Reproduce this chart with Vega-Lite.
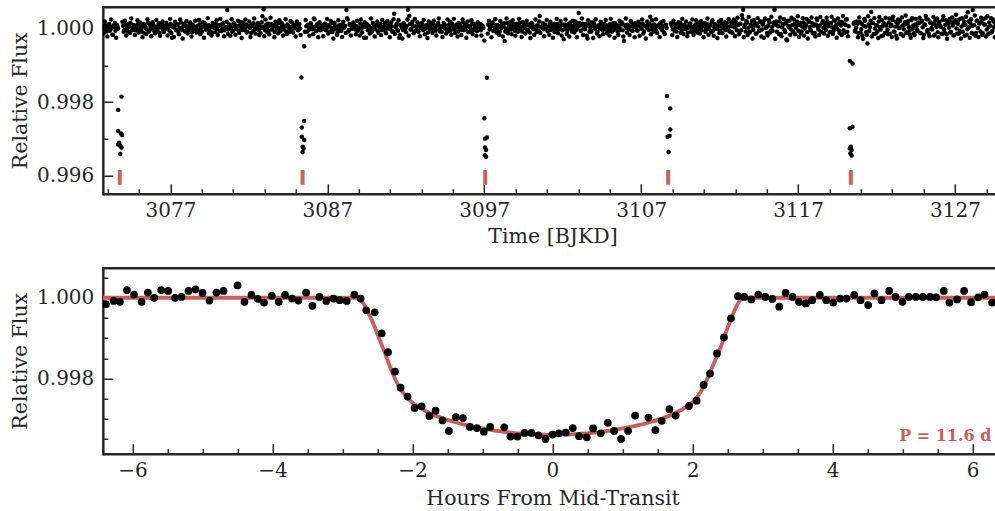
{
"$schema":"https://vega.github.io/schema/vega-lite/v6.json",
"background":"white",
"padding":{"left":9.8,"top":6.75,"right":0,"bottom":0},
"spacing":74,
"bounds":"flush",
"config":{"view":{"stroke":null},
"axis":{"labelFont":"DejaVu Serif","titleFont":"DejaVu Serif","labelFontSize":20,"titleFontSize":20.5,"titleFontWeight":"normal","labelColor":"#262626","titleColor":"#262626","domainColor":"#262626","tickColor":"#262626","domainWidth":2.5,"tickWidth":1.5,"grid":false,"labelOverlap":false,"labelFlush":false,"labelBound":false},
"axisX":{"domainCap":"butt"},
"axisY":{"domainCap":"square"}},
"datasets":{
"band":[
{"t":3072.7,"f":1.00006},{"t":3072.78,"f":0.99997},{"t":3072.86,"f":1.00009},{"t":3072.94,"f":0.99992},{"t":3073.02,"f":1.00004},{"t":3073.1,"f":1.00012},{"t":3073.18,"f":0.99998},{"t":3073.26,"f":1.00005},{"t":3073.34,"f":0.99982},{"t":3073.42,"f":1.00003},{"t":3073.5,"f":0.99994},{"t":3073.58,"f":1.0001},{"t":3073.66,"f":0.99999},{"t":3073.98,"f":1.00007},{"t":3074.06,"f":0.99996},{"t":3074.14,"f":1.00011},{"t":3074.22,"f":1.0},{"t":3074.3,"f":0.99991},{"t":3074.38,"f":1.00005},{"t":3074.46,"f":1.00014},{"t":3074.54,"f":0.99995},{"t":3074.62,"f":1.00002},
{"t":3074.7,"f":1.00008},{"t":3074.78,"f":0.99995},{"t":3074.86,"f":1.00001},{"t":3074.94,"f":1.00013},{"t":3075.02,"f":0.99993},{"t":3075.1,"f":1.00003},{"t":3075.18,"f":1.00006},{"t":3075.26,"f":0.99989},{"t":3075.34,"f":1.00009},{"t":3075.42,"f":1.00002},{"t":3075.5,"f":0.99997},{"t":3075.58,"f":1.00015},{"t":3075.66,"f":0.99994},{"t":3075.74,"f":1.00004},{"t":3075.82,"f":1.0},{"t":3075.9,"f":1.0001},{"t":3075.98,"f":0.99992},{"t":3076.06,"f":1.00005},{"t":3076.14,"f":0.99998},{"t":3076.22,"f":1.00007},{"t":3076.3,"f":0.99988},{"t":3076.38,"f":1.00003},{"t":3076.46,"f":1.00011},{"t":3076.54,"f":0.99996},{"t":3076.62,"f":1.00006},
{"t":3076.7,"f":0.99999},{"t":3076.78,"f":1.00009},{"t":3076.86,"f":1.00004},{"t":3076.94,"f":0.99994},{"t":3077.02,"f":1.00012},{"t":3077.1,"f":0.99975},{"t":3077.18,"f":1.00003},{"t":3077.26,"f":1.00007},{"t":3077.34,"f":0.99997},{"t":3077.42,"f":1.0001},{"t":3077.5,"f":0.99991},{"t":3077.58,"f":1.00002},{"t":3077.66,"f":1.00016},{"t":3077.74,"f":0.99996},{"t":3077.82,"f":1.00005},{"t":3077.9,"f":0.99993},{"t":3077.98,"f":1.00008},{"t":3078.06,"f":1.00001},{"t":3078.14,"f":0.99995},{"t":3078.22,"f":1.00013},{"t":3078.3,"f":1.0},{"t":3078.38,"f":0.9999},{"t":3078.46,"f":1.00006},{"t":3078.54,"f":1.00003},{"t":3078.62,"f":0.99998},
{"t":3078.7,"f":1.00007},{"t":3078.78,"f":0.99996},{"t":3078.86,"f":1.00011},{"t":3078.94,"f":1.00002},{"t":3079.02,"f":0.99992},{"t":3079.1,"f":1.00005},{"t":3079.18,"f":1.00014},{"t":3079.26,"f":0.99997},{"t":3079.34,"f":1.00001},{"t":3079.42,"f":1.00009},{"t":3079.5,"f":0.99994},{"t":3079.58,"f":1.00004},{"t":3079.66,"f":0.99989},{"t":3079.74,"f":1.00008},{"t":3079.82,"f":1.00003},{"t":3079.9,"f":1.00012},{"t":3079.98,"f":0.99998},{"t":3080.06,"f":1.00006},{"t":3080.14,"f":0.99993},{"t":3080.22,"f":1.0001},{"t":3080.3,"f":1.0},{"t":3080.38,"f":1.00015},{"t":3080.46,"f":0.99995},{"t":3080.54,"f":1.00004},{"t":3080.62,"f":1.0005},
{"t":3080.7,"f":0.99997},{"t":3080.78,"f":1.00008},{"t":3080.86,"f":1.00002},{"t":3080.94,"f":0.99991},{"t":3081.02,"f":1.00013},{"t":3081.1,"f":1.00005},{"t":3081.18,"f":0.99999},{"t":3081.26,"f":1.00007},{"t":3081.34,"f":0.99994},{"t":3081.42,"f":1.00018},{"t":3081.5,"f":1.00003},{"t":3081.58,"f":0.99996},{"t":3081.66,"f":1.00009},{"t":3081.74,"f":1.0},{"t":3081.82,"f":1.00011},{"t":3081.9,"f":0.99992},{"t":3081.98,"f":1.00006},{"t":3082.06,"f":1.00002},{"t":3082.14,"f":0.99988},{"t":3082.22,"f":1.00007},{"t":3082.3,"f":1.00014},{"t":3082.38,"f":0.99998},{"t":3082.46,"f":1.00004},{"t":3082.54,"f":1.00009},{"t":3082.62,"f":0.99995},
{"t":3082.7,"f":1.00006},{"t":3082.78,"f":1.00001},{"t":3082.86,"f":1.00033},{"t":3082.94,"f":1.00052},{"t":3083.02,"f":0.99996},{"t":3083.1,"f":1.0001},{"t":3083.18,"f":1.00003},{"t":3083.26,"f":0.99993},{"t":3083.34,"f":1.00008},{"t":3083.42,"f":1.00012},{"t":3083.5,"f":0.99998},{"t":3083.58,"f":1.00005},{"t":3083.66,"f":0.9999},{"t":3083.74,"f":1.00007},{"t":3083.82,"f":1.00001},{"t":3083.9,"f":1.00015},{"t":3083.98,"f":0.99994},{"t":3084.06,"f":1.00003},{"t":3084.14,"f":1.00009},{"t":3084.22,"f":0.99997},{"t":3084.3,"f":1.00006},{"t":3084.38,"f":0.99992},{"t":3084.46,"f":1.00011},{"t":3084.54,"f":1.00002},{"t":3084.62,"f":0.99999},
{"t":3084.7,"f":1.00004},{"t":3084.78,"f":0.99994},{"t":3084.86,"f":1.00009},{"t":3084.94,"f":1.00002},{"t":3085.02,"f":1.00013},{"t":3085.1,"f":0.99997},{"t":3085.18,"f":1.00007},{"t":3085.26,"f":1.0},{"t":3085.58,"f":0.99991},{"t":3085.66,"f":1.00006},{"t":3085.74,"f":1.0001},{"t":3085.82,"f":0.99996},{"t":3085.9,"f":1.00003},{"t":3085.98,"f":1.00008},{"t":3086.06,"f":0.99998},{"t":3086.14,"f":1.00027},{"t":3086.22,"f":1.00005},{"t":3086.3,"f":0.99993},{"t":3086.38,"f":1.00011},{"t":3086.46,"f":1.00001},{"t":3086.54,"f":0.99995},{"t":3086.62,"f":1.00004},
{"t":3086.7,"f":0.99998},{"t":3086.78,"f":1.00007},{"t":3086.86,"f":1.00012},{"t":3086.94,"f":0.99995},{"t":3087.02,"f":1.00003},{"t":3087.1,"f":1.00009},{"t":3087.18,"f":0.99992},{"t":3087.26,"f":1.00001},{"t":3087.34,"f":1.00014},{"t":3087.42,"f":0.99997},{"t":3087.5,"f":1.00006},{"t":3087.58,"f":1.0},{"t":3087.66,"f":0.9999},{"t":3087.74,"f":1.00008},{"t":3087.82,"f":1.00004},{"t":3087.9,"f":0.99994},{"t":3087.98,"f":1.00011},{"t":3088.06,"f":1.00002},{"t":3088.14,"f":1.00007},{"t":3088.22,"f":1.0005},{"t":3088.3,"f":1.00024},{"t":3088.38,"f":0.99996},{"t":3088.46,"f":1.00009},{"t":3088.54,"f":0.99999},{"t":3088.62,"f":1.00005},
{"t":3088.7,"f":1.0001},{"t":3088.78,"f":0.99997},{"t":3088.86,"f":1.00006},{"t":3088.94,"f":0.99993},{"t":3089.02,"f":1.00002},{"t":3089.1,"f":1.00013},{"t":3089.18,"f":0.99999},{"t":3089.26,"f":1.00008},{"t":3089.34,"f":0.99975},{"t":3089.42,"f":1.00004},{"t":3089.5,"f":1.00011},{"t":3089.58,"f":0.99995},{"t":3089.66,"f":1.00007},{"t":3089.74,"f":1.00001},{"t":3089.82,"f":0.99991},{"t":3089.9,"f":1.00015},{"t":3089.98,"f":1.00003},{"t":3090.06,"f":0.99998},{"t":3090.14,"f":1.00009},{"t":3090.22,"f":0.99994},{"t":3090.3,"f":1.00005},{"t":3090.38,"f":1.00012},{"t":3090.46,"f":0.99996},{"t":3090.54,"f":1.0},{"t":3090.62,"f":1.00007},
{"t":3090.7,"f":0.99995},{"t":3090.78,"f":1.00008},{"t":3090.86,"f":1.00003},{"t":3090.94,"f":1.00011},{"t":3091.02,"f":0.99998},{"t":3091.1,"f":1.00006},{"t":3091.18,"f":0.99991},{"t":3091.26,"f":1.0004},{"t":3091.34,"f":1.00004},{"t":3091.42,"f":1.00013},{"t":3091.5,"f":0.99994},{"t":3091.58,"f":0.99975},{"t":3091.66,"f":1.00009},{"t":3091.74,"f":1.00002},{"t":3091.82,"f":0.99996},{"t":3091.9,"f":1.0001},{"t":3091.98,"f":1.0},{"t":3092.06,"f":1.00007},{"t":3092.14,"f":1.00051},{"t":3092.22,"f":1.00034},{"t":3092.3,"f":0.99997},{"t":3092.38,"f":1.00012},{"t":3092.46,"f":1.00005},{"t":3092.54,"f":0.99992},{"t":3092.62,"f":1.00006},
{"t":3092.7,"f":1.00003},{"t":3092.78,"f":0.99993},{"t":3092.86,"f":1.0001},{"t":3092.94,"f":1.00001},{"t":3093.02,"f":1.00014},{"t":3093.1,"f":0.99996},{"t":3093.18,"f":1.00006},{"t":3093.26,"f":0.99999},{"t":3093.34,"f":1.00009},{"t":3093.42,"f":0.99989},{"t":3093.5,"f":1.00004},{"t":3093.58,"f":1.00008},{"t":3093.66,"f":0.99997},{"t":3093.74,"f":1.00012},{"t":3093.82,"f":1.00002},{"t":3093.9,"f":0.99994},{"t":3093.98,"f":1.00007},{"t":3094.06,"f":1.00015},{"t":3094.14,"f":0.99998},{"t":3094.22,"f":1.00005},{"t":3094.3,"f":0.99991},{"t":3094.38,"f":1.00003},{"t":3094.46,"f":1.00011},{"t":3094.54,"f":1.0},{"t":3094.62,"f":0.99995},
{"t":3094.7,"f":1.00009},{"t":3094.78,"f":1.00002},{"t":3094.86,"f":0.99994},{"t":3094.94,"f":1.00013},{"t":3095.02,"f":1.00004},{"t":3095.1,"f":0.99997},{"t":3095.18,"f":1.00007},{"t":3095.26,"f":1.00011},{"t":3095.34,"f":0.99992},{"t":3095.42,"f":1.00001},{"t":3095.5,"f":1.00006},{"t":3095.58,"f":0.99996},{"t":3095.66,"f":1.00016},{"t":3095.74,"f":1.00003},{"t":3095.82,"f":0.99998},{"t":3095.9,"f":1.00008},{"t":3095.98,"f":0.9999},{"t":3096.06,"f":1.00005},{"t":3096.14,"f":1.0},{"t":3096.22,"f":1.00012},{"t":3096.3,"f":0.99995},{"t":3096.38,"f":1.00007},{"t":3096.46,"f":1.00002},{"t":3096.54,"f":0.99993},{"t":3096.62,"f":1.0001},
{"t":3096.7,"f":1.00004},{"t":3096.78,"f":0.99995},{"t":3096.86,"f":1.00008},{"t":3096.94,"f":1.00001},{"t":3097.26,"f":1.0001},{"t":3097.34,"f":0.99997},{"t":3097.42,"f":1.00006},{"t":3097.5,"f":1.00013},{"t":3097.58,"f":0.99993},{"t":3097.66,"f":1.00002},{"t":3097.74,"f":1.00009},{"t":3097.82,"f":0.99999},{"t":3097.9,"f":1.00005},{"t":3097.98,"f":0.99991},{"t":3098.06,"f":1.00003},{"t":3098.14,"f":1.00011},{"t":3098.22,"f":1.00007},{"t":3098.3,"f":0.99966},{"t":3098.38,"f":1.0},{"t":3098.46,"f":1.00014},{"t":3098.54,"f":0.99996},{"t":3098.62,"f":1.00006},
{"t":3098.7,"f":0.99997},{"t":3098.78,"f":1.00007},{"t":3098.86,"f":1.00012},{"t":3098.94,"f":0.99994},{"t":3099.02,"f":1.00002},{"t":3099.1,"f":1.00009},{"t":3099.18,"f":0.99999},{"t":3099.26,"f":1.00015},{"t":3099.34,"f":1.00004},{"t":3099.42,"f":0.99992},{"t":3099.5,"f":1.00006},{"t":3099.58,"f":1.00001},{"t":3099.66,"f":1.0001},{"t":3099.74,"f":0.99996},{"t":3099.82,"f":1.00008},{"t":3099.9,"f":0.99989},{"t":3099.98,"f":1.00003},{"t":3100.06,"f":1.00013},{"t":3100.14,"f":0.99998},{"t":3100.22,"f":1.00005},{"t":3100.3,"f":1.0},{"t":3100.38,"f":1.00009},{"t":3100.46,"f":0.99994},{"t":3100.54,"f":1.00034},{"t":3100.62,"f":1.00004},
{"t":3100.7,"f":1.00007},{"t":3100.78,"f":0.99998},{"t":3100.86,"f":1.00011},{"t":3100.94,"f":1.00003},{"t":3101.02,"f":0.99993},{"t":3101.1,"f":1.00005},{"t":3101.18,"f":1.00014},{"t":3101.26,"f":0.99996},{"t":3101.34,"f":1.00008},{"t":3101.42,"f":1.00001},{"t":3101.5,"f":0.9999},{"t":3101.58,"f":1.00006},{"t":3101.66,"f":1.00012},{"t":3101.74,"f":0.99997},{"t":3101.82,"f":1.00004},{"t":3101.9,"f":1.00009},{"t":3101.98,"f":0.99995},{"t":3102.06,"f":0.99971},{"t":3102.14,"f":1.0001},{"t":3102.22,"f":1.00002},{"t":3102.3,"f":0.99994},{"t":3102.38,"f":1.00013},{"t":3102.46,"f":1.0},{"t":3102.54,"f":1.00007},{"t":3102.62,"f":0.99997},
{"t":3102.7,"f":1.00005},{"t":3102.78,"f":1.0001},{"t":3102.86,"f":0.99996},{"t":3102.94,"f":1.00002},{"t":3103.02,"f":1.00042},{"t":3103.1,"f":1.00008},{"t":3103.18,"f":0.99994},{"t":3103.26,"f":1.00013},{"t":3103.34,"f":1.00001},{"t":3103.42,"f":0.99998},{"t":3103.5,"f":1.00007},{"t":3103.58,"f":0.99973},{"t":3103.66,"f":1.00011},{"t":3103.74,"f":1.00004},{"t":3103.82,"f":0.99992},{"t":3103.9,"f":1.00006},{"t":3103.98,"f":1.00015},{"t":3104.06,"f":0.99999},{"t":3104.14,"f":1.00003},{"t":3104.22,"f":0.99991},{"t":3104.3,"f":1.00009},{"t":3104.38,"f":1.0},{"t":3104.46,"f":1.00012},{"t":3104.54,"f":0.99995},{"t":3104.62,"f":1.00006},
{"t":3104.7,"f":0.99998},{"t":3104.78,"f":1.00009},{"t":3104.86,"f":1.00004},{"t":3104.94,"f":0.99993},{"t":3105.02,"f":1.00012},{"t":3105.1,"f":1.00001},{"t":3105.18,"f":1.00006},{"t":3105.26,"f":0.99996},{"t":3105.34,"f":1.00014},{"t":3105.42,"f":1.00003},{"t":3105.5,"f":0.99991},{"t":3105.58,"f":1.00008},{"t":3105.66,"f":1.0},{"t":3105.74,"f":1.00011},{"t":3105.82,"f":0.99995},{"t":3105.9,"f":0.99966},{"t":3105.98,"f":1.00007},{"t":3106.06,"f":1.00002},{"t":3106.14,"f":1.0001},{"t":3106.22,"f":0.99997},{"t":3106.3,"f":1.00005},{"t":3106.38,"f":1.00016},{"t":3106.46,"f":0.99994},{"t":3106.54,"f":1.00004},{"t":3106.62,"f":1.00008},
{"t":3106.7,"f":1.00003},{"t":3106.78,"f":0.99994},{"t":3106.86,"f":1.0001},{"t":3106.94,"f":1.00005},{"t":3107.02,"f":0.99999},{"t":3107.1,"f":1.00013},{"t":3107.18,"f":0.99992},{"t":3107.26,"f":1.00007},{"t":3107.34,"f":1.00002},{"t":3107.42,"f":1.00009},{"t":3107.5,"f":0.99996},{"t":3107.58,"f":1.00032},{"t":3107.66,"f":1.00006},{"t":3107.74,"f":0.99998},{"t":3107.82,"f":1.00011},{"t":3107.9,"f":1.0},{"t":3107.98,"f":0.99993},{"t":3108.06,"f":1.00008},{"t":3108.14,"f":1.00004},{"t":3108.22,"f":1.00014},{"t":3108.3,"f":0.99997},{"t":3108.38,"f":1.00006},{"t":3108.46,"f":0.9999},{"t":3108.54,"f":1.00009},{"t":3108.62,"f":1.00001},
{"t":3108.94,"f":1.00007},{"t":3109.02,"f":0.99997},{"t":3109.1,"f":1.00012},{"t":3109.18,"f":1.00004},{"t":3109.26,"f":0.99992},{"t":3109.34,"f":1.00009},{"t":3109.42,"f":1.00001},{"t":3109.5,"f":1.00015},{"t":3109.58,"f":0.99995},{"t":3109.66,"f":1.00006},{"t":3109.74,"f":1.0001},{"t":3109.82,"f":0.99998},{"t":3109.9,"f":1.00003},{"t":3109.98,"f":0.99989},{"t":3110.06,"f":1.00008},{"t":3110.14,"f":1.00013},{"t":3110.22,"f":1.0},{"t":3110.3,"f":1.00005},{"t":3110.38,"f":0.99994},{"t":3110.46,"f":1.00011},{"t":3110.54,"f":1.00002},{"t":3110.62,"f":0.99996},
{"t":3110.7,"f":1.00009},{"t":3110.78,"f":1.00002},{"t":3110.86,"f":0.99995},{"t":3110.94,"f":1.00014},{"t":3111.02,"f":1.00006},{"t":3111.1,"f":0.99991},{"t":3111.18,"f":1.00003},{"t":3111.26,"f":1.00011},{"t":3111.34,"f":0.99998},{"t":3111.42,"f":1.00008},{"t":3111.5,"f":1.00017},{"t":3111.58,"f":0.99994},{"t":3111.66,"f":1.00004},{"t":3111.74,"f":1.0001},{"t":3111.82,"f":0.99999},{"t":3111.9,"f":1.00007},{"t":3111.98,"f":0.99988},{"t":3112.06,"f":1.00005},{"t":3112.14,"f":1.00013},{"t":3112.22,"f":1.0},{"t":3112.3,"f":1.00008},{"t":3112.38,"f":0.99996},{"t":3112.46,"f":1.00015},{"t":3112.54,"f":1.00003},{"t":3112.62,"f":0.99993},
{"t":3112.7,"f":1.00006},{"t":3112.78,"f":0.9999},{"t":3112.86,"f":1.00014},{"t":3112.94,"f":1.00003},{"t":3113.02,"f":1.00018},{"t":3113.1,"f":0.99995},{"t":3113.18,"f":1.00009},{"t":3113.26,"f":0.99987},{"t":3113.34,"f":1.00012},{"t":3113.42,"f":1.00036},{"t":3113.5,"f":1.00051},{"t":3113.58,"f":1.00004},{"t":3113.66,"f":0.99992},{"t":3113.74,"f":1.00016},{"t":3113.82,"f":1.00002},{"t":3113.9,"f":0.99989},{"t":3113.98,"f":1.0001},{"t":3114.06,"f":1.0002},{"t":3114.14,"f":0.99996},{"t":3114.22,"f":1.00007},{"t":3114.3,"f":0.99986},{"t":3114.38,"f":1.00013},{"t":3114.46,"f":1.00005},{"t":3114.54,"f":0.99994},{"t":3114.62,"f":1.00019},
{"t":3114.7,"f":0.99997},{"t":3114.78,"f":1.00012},{"t":3114.86,"f":1.00022},{"t":3114.94,"f":1.00001},{"t":3115.02,"f":0.99988},{"t":3115.1,"f":1.00008},{"t":3115.18,"f":1.00017},{"t":3115.26,"f":0.99993},{"t":3115.34,"f":1.00004},{"t":3115.42,"f":1.00015},{"t":3115.5,"f":1.00051},{"t":3115.58,"f":1.0001},{"t":3115.66,"f":0.99991},{"t":3115.74,"f":1.00006},{"t":3115.82,"f":1.00019},{"t":3115.9,"f":0.99985},{"t":3115.98,"f":1.00003},{"t":3116.06,"f":1.00011},{"t":3116.14,"f":0.99995},{"t":3116.22,"f":1.00014},{"t":3116.3,"f":0.99968},{"t":3116.38,"f":1.00007},{"t":3116.46,"f":1.00021},{"t":3116.54,"f":0.99998},{"t":3116.62,"f":1.00009},
{"t":3116.7,"f":0.99992},{"t":3116.78,"f":1.00013},{"t":3116.86,"f":1.00002},{"t":3116.94,"f":1.00018},{"t":3117.02,"f":0.99994},{"t":3117.1,"f":1.00009},{"t":3117.18,"f":0.99986},{"t":3117.26,"f":1.00005},{"t":3117.34,"f":1.00016},{"t":3117.42,"f":1.0},{"t":3117.5,"f":1.00011},{"t":3117.58,"f":0.9999},{"t":3117.66,"f":1.0002},{"t":3117.74,"f":1.00004},{"t":3117.82,"f":0.99995},{"t":3117.9,"f":1.00014},{"t":3117.98,"f":1.00007},{"t":3118.06,"f":0.99988},{"t":3118.14,"f":1.0001},{"t":3118.22,"f":1.00023},{"t":3118.3,"f":0.99997},{"t":3118.38,"f":1.00008},{"t":3118.46,"f":0.99991},{"t":3118.54,"f":1.00015},{"t":3118.62,"f":1.00001},
{"t":3118.7,"f":1.00012},{"t":3118.78,"f":0.99996},{"t":3118.86,"f":1.00019},{"t":3118.94,"f":1.00006},{"t":3119.02,"f":0.99989},{"t":3119.1,"f":1.00015},{"t":3119.18,"f":1.00003},{"t":3119.26,"f":0.99993},{"t":3119.34,"f":1.00021},{"t":3119.42,"f":1.00009},{"t":3119.5,"f":0.99998},{"t":3119.58,"f":1.00014},{"t":3119.66,"f":0.99987},{"t":3119.74,"f":1.00008},{"t":3119.82,"f":1.00017},{"t":3119.9,"f":0.99995},{"t":3119.98,"f":1.00011},{"t":3120.06,"f":1.00024},{"t":3120.14,"f":0.99991},{"t":3120.22,"f":1.00006},{"t":3120.54,"f":1.00013},{"t":3120.62,"f":0.99994},
{"t":3120.7,"f":1.00002},{"t":3120.78,"f":1.00013},{"t":3120.86,"f":0.99987},{"t":3120.94,"f":1.00017},{"t":3121.02,"f":0.99998},{"t":3121.1,"f":0.99981},{"t":3121.18,"f":1.00007},{"t":3121.26,"f":1.00021},{"t":3121.34,"f":0.9999},{"t":3121.42,"f":0.99959},{"t":3121.5,"f":1.00011},{"t":3121.58,"f":1.00004},{"t":3121.66,"f":1.00045},{"t":3121.74,"f":1.00015},{"t":3121.82,"f":0.99985},{"t":3121.9,"f":1.0},{"t":3121.98,"f":1.00009},{"t":3122.06,"f":0.99992},{"t":3122.14,"f":1.00019},{"t":3122.22,"f":1.00003},{"t":3122.3,"f":0.99979},{"t":3122.38,"f":1.00006},{"t":3122.46,"f":1.00014},{"t":3122.54,"f":0.99988},{"t":3122.62,"f":1.00008},
{"t":3122.7,"f":0.99997},{"t":3122.78,"f":1.00016},{"t":3122.86,"f":0.99986},{"t":3122.94,"f":1.0001},{"t":3123.02,"f":1.00023},{"t":3123.1,"f":0.99991},{"t":3123.18,"f":1.00005},{"t":3123.26,"f":0.9998},{"t":3123.34,"f":1.00013},{"t":3123.42,"f":1.00001},{"t":3123.5,"f":1.0002},{"t":3123.58,"f":0.99984},{"t":3123.66,"f":1.00008},{"t":3123.74,"f":0.99998},{"t":3123.82,"f":1.00017},{"t":3123.9,"f":0.99989},{"t":3123.98,"f":1.00012},{"t":3124.06,"f":1.00004},{"t":3124.14,"f":0.99982},{"t":3124.22,"f":1.00022},{"t":3124.3,"f":0.99999},{"t":3124.38,"f":0.99987},{"t":3124.46,"f":1.00011},{"t":3124.54,"f":1.00006},{"t":3124.62,"f":0.99993},
{"t":3124.7,"f":1.00014},{"t":3124.78,"f":0.99988},{"t":3124.86,"f":1.00019},{"t":3124.94,"f":1.00003},{"t":3125.02,"f":0.99983},{"t":3125.1,"f":1.00009},{"t":3125.18,"f":1.00025},{"t":3125.26,"f":0.99996},{"t":3125.34,"f":0.99985},{"t":3125.42,"f":1.00016},{"t":3125.5,"f":1.00001},{"t":3125.58,"f":1.00012},{"t":3125.66,"f":0.99981},{"t":3125.74,"f":1.00021},{"t":3125.82,"f":1.00004},{"t":3125.9,"f":0.9999},{"t":3125.98,"f":1.00015},{"t":3126.06,"f":1.00007},{"t":3126.14,"f":0.99986},{"t":3126.22,"f":1.00023},{"t":3126.3,"f":0.99998},{"t":3126.38,"f":1.0001},{"t":3126.46,"f":0.99984},{"t":3126.54,"f":1.00018},{"t":3126.62,"f":1.00002},
{"t":3126.7,"f":0.99989},{"t":3126.78,"f":1.00017},{"t":3126.86,"f":1.00008},{"t":3126.94,"f":0.99982},{"t":3127.02,"f":1.00022},{"t":3127.1,"f":1.0},{"t":3127.18,"f":1.00013},{"t":3127.26,"f":0.99986},{"t":3127.34,"f":1.00026},{"t":3127.42,"f":1.00005},{"t":3127.5,"f":0.99991},{"t":3127.58,"f":1.00019},{"t":3127.66,"f":1.0001},{"t":3127.74,"f":0.99983},{"t":3127.82,"f":1.00044},{"t":3127.9,"f":1.00003},{"t":3127.98,"f":1.00015},{"t":3128.06,"f":0.99988},{"t":3128.14,"f":1.0005},{"t":3128.22,"f":1.00009},{"t":3128.3,"f":0.9998},{"t":3128.38,"f":1.00021},{"t":3128.46,"f":1.00001},{"t":3128.54,"f":1.00014},{"t":3128.62,"f":0.99992},
{"t":3128.7,"f":1.0002},{"t":3128.78,"f":0.99987},{"t":3128.86,"f":1.00011},{"t":3128.94,"f":1.00028},{"t":3129.02,"f":0.99997},{"t":3129.1,"f":0.99984},{"t":3129.18,"f":1.00016},{"t":3129.26,"f":1.00007},{"t":3129.34,"f":0.9999},{"t":3129.42,"f":1.00024},{"t":3129.5,"f":1.00003},{"t":3129.58,"f":1.00012},
{"t":3072.74,"f":0.99986},{"t":3072.82,"f":1.00019},{"t":3072.9,"f":1.00003},{"t":3072.98,"f":0.99978},{"t":3073.06,"f":1.00011},{"t":3073.14,"f":0.99994},{"t":3073.22,"f":1.00024},{"t":3073.3,"f":0.99983},{"t":3073.38,"f":1.00008},{"t":3073.46,"f":1.00015},{"t":3073.54,"f":0.99975},{"t":3073.62,"f":1.00006},{"t":3073.94,"f":1.00018},{"t":3074.02,"f":0.99991},{"t":3074.1,"f":1.00021},{"t":3074.18,"f":0.99981},{"t":3074.26,"f":1.00002},{"t":3074.34,"f":1.00013},{"t":3074.42,"f":0.99988},{"t":3074.5,"f":1.00027},{"t":3074.58,"f":0.99996},{"t":3074.66,"f":1.00009},
{"t":3074.74,"f":0.99982},{"t":3074.82,"f":1.00007},{"t":3074.9,"f":1.00022},{"t":3074.98,"f":0.99989},{"t":3075.06,"f":1.00016},{"t":3075.14,"f":0.99997},{"t":3075.22,"f":0.99976},{"t":3075.3,"f":1.00012},{"t":3075.38,"f":1.00004},{"t":3075.46,"f":0.99985},{"t":3075.54,"f":1.00025},{"t":3075.62,"f":0.99992},{"t":3075.7,"f":1.0001},{"t":3075.78,"f":0.99979},{"t":3075.86,"f":1.00017},{"t":3075.94,"f":1.00001},{"t":3076.02,"f":0.99987},{"t":3076.1,"f":1.00023},{"t":3076.18,"f":0.99994},{"t":3076.26,"f":1.00014},{"t":3076.34,"f":0.9998},{"t":3076.42,"f":1.00008},{"t":3076.5,"f":1.00019},{"t":3076.58,"f":0.9999},{"t":3076.66,"f":1.00003},
{"t":3076.74,"f":1.00015},{"t":3076.82,"f":0.99981},{"t":3076.9,"f":1.00006},{"t":3076.98,"f":1.00026},{"t":3077.06,"f":0.99988},{"t":3077.14,"f":1.00009},{"t":3077.22,"f":0.99977},{"t":3077.3,"f":1.00018},{"t":3077.38,"f":0.99995},{"t":3077.46,"f":1.00011},{"t":3077.54,"f":0.99984},{"t":3077.62,"f":1.00024},{"t":3077.7,"f":1.00002},{"t":3077.78,"f":0.99973},{"t":3077.86,"f":1.00013},{"t":3077.94,"f":0.99992},{"t":3078.02,"f":1.0002},{"t":3078.1,"f":0.99986},{"t":3078.18,"f":1.00005},{"t":3078.26,"f":1.00016},{"t":3078.34,"f":0.99978},{"t":3078.42,"f":1.0001},{"t":3078.5,"f":0.99997},{"t":3078.58,"f":1.00021},{"t":3078.66,"f":0.99989},
{"t":3078.74,"f":0.99991},{"t":3078.82,"f":1.00023},{"t":3078.9,"f":0.99984},{"t":3078.98,"f":1.00004},{"t":3079.06,"f":1.00017},{"t":3079.14,"f":0.99975},{"t":3079.22,"f":1.00012},{"t":3079.3,"f":0.99998},{"t":3079.38,"f":1.00028},{"t":3079.46,"f":0.99987},{"t":3079.54,"f":1.00007},{"t":3079.62,"f":0.99981},{"t":3079.7,"f":1.00015},{"t":3079.78,"f":1.00001},{"t":3079.86,"f":0.9999},{"t":3079.94,"f":1.00022},{"t":3080.02,"f":0.99982},{"t":3080.1,"f":1.00009},{"t":3080.18,"f":1.00026},{"t":3080.26,"f":0.99993},{"t":3080.34,"f":1.00013},{"t":3080.42,"f":0.99979},{"t":3080.5,"f":1.00003},{"t":3080.58,"f":1.00018},{"t":3080.66,"f":0.99985},
{"t":3080.74,"f":1.00011},{"t":3080.82,"f":0.9998},{"t":3080.9,"f":1.00025},{"t":3080.98,"f":0.99994},{"t":3081.06,"f":1.00014},{"t":3081.14,"f":0.99983},{"t":3081.22,"f":1.00003},{"t":3081.3,"f":1.00021},{"t":3081.38,"f":0.99988},{"t":3081.46,"f":1.00008},{"t":3081.54,"f":0.99974},{"t":3081.62,"f":1.00016},{"t":3081.7,"f":0.99996},{"t":3081.78,"f":1.00024},{"t":3081.86,"f":0.99989},{"t":3081.94,"f":1.00006},{"t":3082.02,"f":1.00019},{"t":3082.1,"f":0.99977},{"t":3082.18,"f":1.0001},{"t":3082.26,"f":0.99992},{"t":3082.34,"f":1.00027},{"t":3082.42,"f":0.99986},{"t":3082.5,"f":1.00002},{"t":3082.58,"f":1.00015},{"t":3082.66,"f":0.99982},
{"t":3082.74,"f":0.99988},{"t":3082.82,"f":1.00017},{"t":3082.9,"f":1.00005},{"t":3082.98,"f":0.99979},{"t":3083.06,"f":1.00024},{"t":3083.14,"f":0.99991},{"t":3083.22,"f":1.00013},{"t":3083.3,"f":0.99984},{"t":3083.38,"f":1.00029},{"t":3083.46,"f":0.99997},{"t":3083.54,"f":1.0001},{"t":3083.62,"f":0.99976},{"t":3083.7,"f":1.00018},{"t":3083.78,"f":1.0},{"t":3083.86,"f":0.99987},{"t":3083.94,"f":1.00022},{"t":3084.02,"f":0.99993},{"t":3084.1,"f":1.00014},{"t":3084.18,"f":0.99981},{"t":3084.26,"f":1.00007},{"t":3084.34,"f":1.00025},{"t":3084.42,"f":0.99985},{"t":3084.5,"f":1.00004},{"t":3084.58,"f":0.9999},{"t":3084.66,"f":1.0002},
{"t":3084.74,"f":1.00016},{"t":3084.82,"f":0.99989},{"t":3084.9,"f":1.00008},{"t":3084.98,"f":0.99978},{"t":3085.06,"f":1.00019},{"t":3085.14,"f":0.99995},{"t":3085.22,"f":1.00012},{"t":3085.3,"f":0.99982},{"t":3085.62,"f":1.00023},{"t":3085.7,"f":0.99991},{"t":3085.78,"f":1.00006},{"t":3085.86,"f":0.9998},{"t":3085.94,"f":1.00014},{"t":3086.02,"f":1.00002},{"t":3086.1,"f":0.99984},{"t":3086.18,"f":1.00025},{"t":3086.26,"f":0.99993},{"t":3086.34,"f":1.00011},{"t":3086.42,"f":0.99976},{"t":3086.5,"f":1.00017},{"t":3086.58,"f":0.99998},{"t":3086.66,"f":1.00009},
{"t":3086.74,"f":0.99979},{"t":3086.82,"f":1.00013},{"t":3086.9,"f":0.99996},{"t":3086.98,"f":1.00026},{"t":3087.06,"f":0.99986},{"t":3087.14,"f":1.00007},{"t":3087.22,"f":1.0002},{"t":3087.3,"f":0.9999},{"t":3087.38,"f":0.99973},{"t":3087.46,"f":1.00015},{"t":3087.54,"f":1.00003},{"t":3087.62,"f":0.99983},{"t":3087.7,"f":1.00022},{"t":3087.78,"f":0.99994},{"t":3087.86,"f":1.0001},{"t":3087.94,"f":0.99977},{"t":3088.02,"f":1.00018},{"t":3088.1,"f":1.00005},{"t":3088.18,"f":0.99988},{"t":3088.26,"f":1.00028},{"t":3088.34,"f":0.99992},{"t":3088.42,"f":1.00012},{"t":3088.5,"f":0.99981},{"t":3088.58,"f":1.00001},{"t":3088.66,"f":1.00016},
{"t":3088.74,"f":1.00008},{"t":3088.82,"f":0.99984},{"t":3088.9,"f":1.00021},{"t":3088.98,"f":0.99997},{"t":3089.06,"f":0.99981},{"t":3089.14,"f":1.00024},{"t":3089.22,"f":0.99989},{"t":3089.3,"f":1.00006},{"t":3089.38,"f":1.00017},{"t":3089.46,"f":0.99975},{"t":3089.54,"f":1.00011},{"t":3089.62,"f":1.00002},{"t":3089.7,"f":0.99986},{"t":3089.78,"f":1.00027},{"t":3089.86,"f":0.99993},{"t":3089.94,"f":1.00013},{"t":3090.02,"f":0.99978},{"t":3090.1,"f":1.00009},{"t":3090.18,"f":1.00019},{"t":3090.26,"f":0.99988},{"t":3090.34,"f":1.00004},{"t":3090.42,"f":0.99982},{"t":3090.5,"f":1.00023},{"t":3090.58,"f":0.99995},{"t":3090.66,"f":1.00014},
{"t":3090.74,"f":0.99987},{"t":3090.82,"f":1.0002},{"t":3090.9,"f":1.00001},{"t":3090.98,"f":0.99976},{"t":3091.06,"f":1.00016},{"t":3091.14,"f":0.99992},{"t":3091.22,"f":1.00025},{"t":3091.3,"f":0.99985},{"t":3091.38,"f":1.00007},{"t":3091.46,"f":0.99996},{"t":3091.54,"f":1.00022},{"t":3091.62,"f":0.99982},{"t":3091.7,"f":1.0001},{"t":3091.78,"f":0.99973},{"t":3091.86,"f":1.00014},{"t":3091.94,"f":1.00003},{"t":3092.02,"f":0.9999},{"t":3092.1,"f":1.00024},{"t":3092.18,"f":0.9998},{"t":3092.26,"f":1.00012},{"t":3092.34,"f":0.99998},{"t":3092.42,"f":1.00018},{"t":3092.5,"f":0.99987},{"t":3092.58,"f":1.00026},{"t":3092.66,"f":0.99994},
{"t":3092.74,"f":1.00017},{"t":3092.82,"f":0.99991},{"t":3092.9,"f":0.99979},{"t":3092.98,"f":1.00012},{"t":3093.06,"f":1.00005},{"t":3093.14,"f":1.00023},{"t":3093.22,"f":0.99984},{"t":3093.3,"f":1.00009},{"t":3093.38,"f":0.99974},{"t":3093.46,"f":1.00019},{"t":3093.54,"f":0.99997},{"t":3093.62,"f":1.00014},{"t":3093.7,"f":0.99988},{"t":3093.78,"f":1.00021},{"t":3093.86,"f":1.0},{"t":3093.94,"f":0.99981},{"t":3094.02,"f":1.00011},{"t":3094.1,"f":1.00027},{"t":3094.18,"f":0.99992},{"t":3094.26,"f":1.00006},{"t":3094.34,"f":0.99977},{"t":3094.42,"f":1.00015},{"t":3094.5,"f":1.00002},{"t":3094.58,"f":0.99986},{"t":3094.66,"f":1.00024},
{"t":3094.74,"f":0.99993},{"t":3094.82,"f":1.00018},{"t":3094.9,"f":0.99983},{"t":3094.98,"f":1.0001},{"t":3095.06,"f":1.00026},{"t":3095.14,"f":0.99988},{"t":3095.22,"f":1.00003},{"t":3095.3,"f":0.99978},{"t":3095.38,"f":1.00015},{"t":3095.46,"f":1.00008},{"t":3095.54,"f":0.99982},{"t":3095.62,"f":1.00024},{"t":3095.7,"f":0.99995},{"t":3095.78,"f":1.00011},{"t":3095.86,"f":0.99975},{"t":3095.94,"f":1.00019},{"t":3096.02,"f":1.00006},{"t":3096.1,"f":0.99991},{"t":3096.18,"f":1.00022},{"t":3096.26,"f":0.99985},{"t":3096.34,"f":1.00013},{"t":3096.42,"f":0.99999},{"t":3096.5,"f":0.9998},{"t":3096.58,"f":1.00017},{"t":3096.66,"f":1.00004},
{"t":3096.74,"f":1.00012},{"t":3096.82,"f":0.99981},{"t":3096.9,"f":1.00007},{"t":3097.22,"f":0.99986},{"t":3097.3,"f":1.00021},{"t":3097.38,"f":1.00003},{"t":3097.46,"f":0.99976},{"t":3097.54,"f":1.00016},{"t":3097.62,"f":0.99994},{"t":3097.7,"f":1.00025},{"t":3097.78,"f":0.99989},{"t":3097.86,"f":1.00009},{"t":3097.94,"f":0.99983},{"t":3098.02,"f":1.0002},{"t":3098.1,"f":1.00001},{"t":3098.18,"f":0.99978},{"t":3098.26,"f":1.00014},{"t":3098.34,"f":0.99992},{"t":3098.42,"f":1.00027},{"t":3098.5,"f":0.99987},{"t":3098.58,"f":1.00005},{"t":3098.66,"f":1.00018},
{"t":3098.74,"f":0.99984},{"t":3098.82,"f":1.00022},{"t":3098.9,"f":1.00004},{"t":3098.98,"f":0.9998},{"t":3099.06,"f":1.00013},{"t":3099.14,"f":0.99991},{"t":3099.22,"f":1.00026},{"t":3099.3,"f":0.99997},{"t":3099.38,"f":0.99977},{"t":3099.46,"f":1.00017},{"t":3099.54,"f":1.00008},{"t":3099.62,"f":0.99986},{"t":3099.7,"f":1.00021},{"t":3099.78,"f":0.99994},{"t":3099.86,"f":1.00011},{"t":3099.94,"f":0.99974},{"t":3100.02,"f":1.00015},{"t":3100.1,"f":1.00002},{"t":3100.18,"f":0.99982},{"t":3100.26,"f":1.00024},{"t":3100.34,"f":0.9999},{"t":3100.42,"f":1.00007},{"t":3100.5,"f":1.00019},{"t":3100.58,"f":0.99988},{"t":3100.66,"f":1.00003},
{"t":3100.74,"f":1.00014},{"t":3100.82,"f":0.99979},{"t":3100.9,"f":1.00009},{"t":3100.98,"f":1.00023},{"t":3101.06,"f":0.99993},{"t":3101.14,"f":0.99983},{"t":3101.22,"f":1.00018},{"t":3101.3,"f":1.00001},{"t":3101.38,"f":0.99975},{"t":3101.46,"f":1.00012},{"t":3101.54,"f":0.99996},{"t":3101.62,"f":1.00026},{"t":3101.7,"f":0.99987},{"t":3101.78,"f":1.00006},{"t":3101.86,"f":1.0002},{"t":3101.94,"f":0.99981},{"t":3102.02,"f":1.0001},{"t":3102.1,"f":0.99998},{"t":3102.18,"f":1.00024},{"t":3102.26,"f":0.99985},{"t":3102.34,"f":1.00005},{"t":3102.42,"f":0.99978},{"t":3102.5,"f":1.00016},{"t":3102.58,"f":0.99992},{"t":3102.66,"f":1.00021},
{"t":3102.74,"f":0.99989},{"t":3102.82,"f":1.00019},{"t":3102.9,"f":0.99976},{"t":3102.98,"f":1.00008},{"t":3103.06,"f":1.00015},{"t":3103.14,"f":0.99994},{"t":3103.22,"f":1.00027},{"t":3103.3,"f":0.99982},{"t":3103.38,"f":1.00003},{"t":3103.46,"f":1.00012},{"t":3103.54,"f":0.9998},{"t":3103.62,"f":1.00022},{"t":3103.7,"f":0.99991},{"t":3103.78,"f":0.99997},{"t":3103.86,"f":1.00017},{"t":3103.94,"f":0.99974},{"t":3104.02,"f":1.00011},{"t":3104.1,"f":1.00025},{"t":3104.18,"f":0.99986},{"t":3104.26,"f":1.00006},{"t":3104.34,"f":0.99979},{"t":3104.42,"f":1.00018},{"t":3104.5,"f":1.0},{"t":3104.58,"f":0.99984},{"t":3104.66,"f":1.00013},
{"t":3104.74,"f":1.00023},{"t":3104.82,"f":0.99987},{"t":3104.9,"f":1.00005},{"t":3104.98,"f":0.99981},{"t":3105.06,"f":1.00026},{"t":3105.14,"f":0.99992},{"t":3105.22,"f":1.00014},{"t":3105.3,"f":0.99975},{"t":3105.38,"f":1.0001},{"t":3105.46,"f":1.00002},{"t":3105.54,"f":0.99983},{"t":3105.62,"f":1.00021},{"t":3105.7,"f":0.99996},{"t":3105.78,"f":1.00016},{"t":3105.86,"f":0.99978},{"t":3105.94,"f":1.00009},{"t":3106.02,"f":1.00027},{"t":3106.1,"f":0.99989},{"t":3106.18,"f":1.00004},{"t":3106.26,"f":0.99982},{"t":3106.34,"f":1.0002},{"t":3106.42,"f":0.99994},{"t":3106.5,"f":1.00012},{"t":3106.58,"f":0.99976},{"t":3106.66,"f":1.00015},
{"t":3106.74,"f":0.99995},{"t":3106.82,"f":1.00018},{"t":3106.9,"f":0.9998},{"t":3106.98,"f":1.00011},{"t":3107.06,"f":1.00024},{"t":3107.14,"f":0.99986},{"t":3107.22,"f":1.00007},{"t":3107.3,"f":0.99973},{"t":3107.38,"f":1.00019},{"t":3107.46,"f":0.99998},{"t":3107.54,"f":1.00013},{"t":3107.62,"f":0.99984},{"t":3107.7,"f":1.00022},{"t":3107.78,"f":0.99991},{"t":3107.86,"f":1.00003},{"t":3107.94,"f":1.00025},{"t":3108.02,"f":0.99988},{"t":3108.1,"f":1.00008},{"t":3108.18,"f":0.99977},{"t":3108.26,"f":1.00016},{"t":3108.34,"f":0.99996},{"t":3108.42,"f":1.0002},{"t":3108.5,"f":0.99985},{"t":3108.58,"f":1.0001},
{"t":3108.9,"f":1.00014},{"t":3108.98,"f":0.99982},{"t":3109.06,"f":1.00021},{"t":3109.14,"f":0.99993},{"t":3109.22,"f":1.0001},{"t":3109.3,"f":0.99977},{"t":3109.38,"f":1.00017},{"t":3109.46,"f":1.00004},{"t":3109.54,"f":0.99988},{"t":3109.62,"f":1.00026},{"t":3109.7,"f":0.99985},{"t":3109.78,"f":1.00008},{"t":3109.86,"f":1.00019},{"t":3109.94,"f":0.99979},{"t":3110.02,"f":1.00002},{"t":3110.1,"f":1.00013},{"t":3110.18,"f":0.99991},{"t":3110.26,"f":1.00024},{"t":3110.34,"f":0.99983},{"t":3110.42,"f":1.00006},{"t":3110.5,"f":1.00022},{"t":3110.58,"f":0.99989},{"t":3110.66,"f":1.00015},
{"t":3110.74,"f":0.99986},{"t":3110.82,"f":1.0002},{"t":3110.9,"f":1.00006},{"t":3110.98,"f":0.99976},{"t":3111.06,"f":1.00015},{"t":3111.14,"f":0.99997},{"t":3111.22,"f":1.00027},{"t":3111.3,"f":0.99983},{"t":3111.38,"f":1.00009},{"t":3111.46,"f":0.9999},{"t":3111.54,"f":1.00022},{"t":3111.62,"f":0.9998},{"t":3111.7,"f":1.00012},{"t":3111.78,"f":1.00001},{"t":3111.86,"f":0.99974},{"t":3111.94,"f":1.00018},{"t":3112.02,"f":0.99994},{"t":3112.1,"f":1.00023},{"t":3112.18,"f":0.99987},{"t":3112.26,"f":1.00007},{"t":3112.34,"f":1.00016},{"t":3112.42,"f":0.99978},{"t":3112.5,"f":1.00004},{"t":3112.58,"f":1.00025},{"t":3112.66,"f":0.99991},
{"t":3112.74,"f":1.00017},{"t":3112.82,"f":0.99988},{"t":3112.9,"f":1.00024},{"t":3112.98,"f":0.99979},{"t":3113.06,"f":1.00008},{"t":3113.14,"f":1.00029},{"t":3113.22,"f":0.99984},{"t":3113.3,"f":1.00013},{"t":3113.38,"f":0.99995},{"t":3113.46,"f":1.00026},{"t":3113.54,"f":0.99976},{"t":3113.62,"f":1.0001},{"t":3113.7,"f":1.0002},{"t":3113.78,"f":0.99982},{"t":3113.86,"f":1.00031},{"t":3113.94,"f":0.99991},{"t":3114.02,"f":1.00005},{"t":3114.1,"f":0.99973},{"t":3114.18,"f":1.00022},{"t":3114.26,"f":1.00014},{"t":3114.34,"f":0.99986},{"t":3114.42,"f":1.00028},{"t":3114.5,"f":0.99993},{"t":3114.58,"f":1.00018},{"t":3114.66,"f":0.99978},
{"t":3114.74,"f":1.00011},{"t":3114.82,"f":0.99975},{"t":3114.9,"f":1.00027},{"t":3114.98,"f":1.00003},{"t":3115.06,"f":0.99981},{"t":3115.14,"f":1.00023},{"t":3115.22,"f":0.99989},{"t":3115.3,"f":1.00032},{"t":3115.38,"f":0.99994},{"t":3115.46,"f":1.00016},{"t":3115.54,"f":0.99972},{"t":3115.62,"f":1.00019},{"t":3115.7,"f":1.00007},{"t":3115.78,"f":0.99985},{"t":3115.86,"f":1.0003},{"t":3115.94,"f":0.99979},{"t":3116.02,"f":1.00012},{"t":3116.1,"f":1.00025},{"t":3116.18,"f":0.9999},{"t":3116.26,"f":0.9997},{"t":3116.34,"f":1.00021},{"t":3116.42,"f":1.00004},{"t":3116.5,"f":0.99983},{"t":3116.58,"f":1.00029},{"t":3116.66,"f":0.99992},
{"t":3116.74,"f":1.00024},{"t":3116.82,"f":0.99984},{"t":3116.9,"f":1.00009},{"t":3116.98,"f":1.00033},{"t":3117.06,"f":0.99977},{"t":3117.14,"f":1.00015},{"t":3117.22,"f":0.99992},{"t":3117.3,"f":1.00028},{"t":3117.38,"f":0.99981},{"t":3117.46,"f":1.00006},{"t":3117.54,"f":1.00026},{"t":3117.62,"f":0.99973},{"t":3117.7,"f":1.00018},{"t":3117.78,"f":0.99996},{"t":3117.86,"f":1.0003},{"t":3117.94,"f":0.99987},{"t":3118.02,"f":1.00011},{"t":3118.1,"f":0.99978},{"t":3118.18,"f":1.00027},{"t":3118.26,"f":1.00003},{"t":3118.34,"f":0.99982},{"t":3118.42,"f":1.00031},{"t":3118.5,"f":0.9999},{"t":3118.58,"f":1.0002},{"t":3118.66,"f":0.99986},
{"t":3118.74,"f":1.00007},{"t":3118.82,"f":1.00029},{"t":3118.9,"f":0.9998},{"t":3118.98,"f":1.00014},{"t":3119.06,"f":0.99991},{"t":3119.14,"f":1.00032},{"t":3119.22,"f":0.99985},{"t":3119.3,"f":1.00022},{"t":3119.38,"f":1.00001},{"t":3119.46,"f":0.99975},{"t":3119.54,"f":1.00027},{"t":3119.62,"f":0.99994},{"t":3119.7,"f":1.00018},{"t":3119.78,"f":0.99982},{"t":3119.86,"f":1.00034},{"t":3119.94,"f":0.99988},{"t":3120.02,"f":1.0001},{"t":3120.1,"f":1.00025},{"t":3120.18,"f":0.99979},{"t":3120.58,"f":1.00016},{"t":3120.66,"f":0.99992},
{"t":3120.74,"f":1.00019},{"t":3120.82,"f":0.99976},{"t":3120.9,"f":1.0003},{"t":3120.98,"f":0.99989},{"t":3121.06,"f":1.00013},{"t":3121.14,"f":0.99972},{"t":3121.22,"f":1.00026},{"t":3121.3,"f":1.00005},{"t":3121.38,"f":0.99983},{"t":3121.46,"f":1.00033},{"t":3121.54,"f":0.99993},{"t":3121.62,"f":1.00021},{"t":3121.7,"f":0.99978},{"t":3121.78,"f":1.00015},{"t":3121.86,"f":1.00028},{"t":3121.94,"f":0.99986},{"t":3122.02,"f":1.00008},{"t":3122.1,"f":0.99974},{"t":3122.18,"f":1.00031},{"t":3122.26,"f":0.99997},{"t":3122.34,"f":1.00023},{"t":3122.42,"f":0.99981},{"t":3122.5,"f":1.00012},{"t":3122.58,"f":1.00029},{"t":3122.66,"f":0.9999},
{"t":3122.74,"f":0.99984},{"t":3122.82,"f":1.00027},{"t":3122.9,"f":1.00006},{"t":3122.98,"f":0.99977},{"t":3123.06,"f":1.00032},{"t":3123.14,"f":0.99991},{"t":3123.22,"f":1.00018},{"t":3123.3,"f":0.99973},{"t":3123.38,"f":1.00024},{"t":3123.46,"f":1.00002},{"t":3123.54,"f":0.99985},{"t":3123.62,"f":1.0003},{"t":3123.7,"f":0.9998},{"t":3123.78,"f":1.00011},{"t":3123.86,"f":1.00035},{"t":3123.94,"f":0.99988},{"t":3124.02,"f":1.0002},{"t":3124.1,"f":0.99994},{"t":3124.18,"f":0.99975},{"t":3124.26,"f":1.00028},{"t":3124.34,"f":1.00008},{"t":3124.42,"f":0.99982},{"t":3124.5,"f":1.00026},{"t":3124.58,"f":0.99996},{"t":3124.66,"f":1.00016},
{"t":3124.74,"f":1.00029},{"t":3124.82,"f":0.99987},{"t":3124.9,"f":1.00021},{"t":3124.98,"f":0.99974},{"t":3125.06,"f":1.00011},{"t":3125.14,"f":1.00034},{"t":3125.22,"f":0.99992},{"t":3125.3,"f":1.00024},{"t":3125.38,"f":0.99979},{"t":3125.46,"f":1.00015},{"t":3125.54,"f":0.99997},{"t":3125.62,"f":1.00031},{"t":3125.7,"f":0.99983},{"t":3125.78,"f":1.00009},{"t":3125.86,"f":1.00027},{"t":3125.94,"f":0.99976},{"t":3126.02,"f":1.00018},{"t":3126.1,"f":1.00004},{"t":3126.18,"f":0.99985},{"t":3126.26,"f":1.00033},{"t":3126.34,"f":0.99989},{"t":3126.42,"f":1.00022},{"t":3126.5,"f":0.99972},{"t":3126.58,"f":1.00013},{"t":3126.66,"f":1.00026},
{"t":3126.74,"f":0.99991},{"t":3126.82,"f":1.0003},{"t":3126.9,"f":0.99981},{"t":3126.98,"f":1.00016},{"t":3127.06,"f":1.00037},{"t":3127.14,"f":0.99986},{"t":3127.22,"f":1.00023},{"t":3127.3,"f":0.99994},{"t":3127.38,"f":0.99973},{"t":3127.46,"f":1.00028},{"t":3127.54,"f":1.0001},{"t":3127.62,"f":0.9998},{"t":3127.7,"f":1.00032},{"t":3127.78,"f":0.99998},{"t":3127.86,"f":1.00019},{"t":3127.94,"f":0.99975},{"t":3128.02,"f":1.00025},{"t":3128.1,"f":1.00007},{"t":3128.18,"f":0.99984},{"t":3128.26,"f":1.00035},{"t":3128.34,"f":0.99988},{"t":3128.42,"f":1.00021},{"t":3128.5,"f":0.99977},{"t":3128.58,"f":1.00014},{"t":3128.66,"f":1.00029},
{"t":3128.74,"f":0.99982},{"t":3128.82,"f":1.00026},{"t":3128.9,"f":1.00011},{"t":3128.98,"f":0.99978},{"t":3129.06,"f":1.00033},{"t":3129.14,"f":1.00004},{"t":3129.22,"f":0.99987},{"t":3129.3,"f":1.00028},{"t":3129.38,"f":0.99993},{"t":3129.46,"f":1.00019},{"t":3129.54,"f":0.99976},
{"t":3073.67,"f":0.99779},{"t":3073.88,"f":0.99815},{"t":3073.67,"f":0.99722},{"t":3073.84,"f":0.99715},{"t":3073.92,"f":0.99711},{"t":3073.67,"f":0.99685},{"t":3073.8,"f":0.99682},{"t":3073.88,"f":0.99677},{"t":3073.8,"f":0.99659},{"t":3073.74,"f":0.9969},
{"t":3085.52,"f":0.99952},{"t":3085.35,"f":0.99867},{"t":3085.52,"f":0.99749},{"t":3085.37,"f":0.99731},{"t":3085.37,"f":0.99706},{"t":3085.52,"f":0.99697},{"t":3085.42,"f":0.99679},{"t":3085.48,"f":0.99674},{"t":3085.42,"f":0.99665},
{"t":3097.0,"f":0.99967},{"t":3097.17,"f":0.99866},{"t":3097.0,"f":0.99756},{"t":3097.05,"f":0.99701},{"t":3097.17,"f":0.99704},{"t":3097.05,"f":0.99677},{"t":3097.11,"f":0.9967},{"t":3097.05,"f":0.99656},{"t":3097.11,"f":0.99652},
{"t":3108.64,"f":0.99817},{"t":3108.85,"f":0.99783},{"t":3108.85,"f":0.99726},{"t":3108.68,"f":0.99706},{"t":3108.81,"f":0.99709},{"t":3108.75,"f":0.99665},
{"t":3120.3,"f":0.99912},{"t":3120.47,"f":0.99905},{"t":3120.3,"f":0.99729},{"t":3120.47,"f":0.99733},{"t":3120.3,"f":0.99674},{"t":3120.41,"f":0.9967},{"t":3120.33,"f":0.99661},{"t":3120.41,"f":0.99655},{"t":3120.36,"f":0.99679}
],
"transits":[{"tc":3073.77},{"tc":3085.42},{"tc":3097.06},{"tc":3108.72},{"tc":3120.36}],
"folded":[
{"h":-6.38,"f":0.99984},{"h":-6.27,"f":0.99992},{"h":-6.18,"f":0.9999},{"h":-6.08,"f":1.00019},{"h":-5.98,"f":1.00008},{"h":-5.87,"f":0.9999},{"h":-5.78,"f":1.00013},{"h":-5.69,"f":1.0},{"h":-5.59,"f":1.00019},{"h":-5.49,"f":1.00017},{"h":-5.39,"f":1.0},{"h":-5.3,"f":1.00002},{"h":-5.2,"f":1.00017},{"h":-5.1,"f":1.00021},{"h":-5.0,"f":1.00012},{"h":-4.9,"f":0.99993},{"h":-4.8,"f":1.00013},{"h":-4.7,"f":1.00017},{"h":-4.5,"f":1.00031},{"h":-4.4,"f":0.9999},{"h":-4.3,"f":1.00007},{"h":-4.21,"f":0.99997},{"h":-4.12,"f":0.99988},{"h":-4.01,"f":1.00005},{"h":-3.91,"f":0.9999},{"h":-3.82,"f":1.00007},{"h":-3.72,"f":0.99998},{"h":-3.63,"f":0.99993},{"h":-3.52,"f":1.00013},{"h":-3.43,"f":0.9998},{"h":-3.33,"f":1.00002},{"h":-3.23,"f":0.99992},{"h":-3.13,"f":0.99998},{"h":-3.04,"f":0.99994},{"h":-2.94,"f":0.99992},{"h":-2.83,"f":1.00008},{"h":-2.74,"f":0.99998},{"h":-2.66,"f":0.99969},{"h":-2.54,"f":0.99964},{"h":-2.44,"f":0.99912},{"h":-2.35,"f":0.99865},{"h":-2.25,"f":0.99817},{"h":-2.17,"f":0.99777},{"h":-2.07,"f":0.99755},{"h":-1.97,"f":0.99727},{"h":-1.87,"f":0.99731},{"h":-1.76,"f":0.99707},{"h":-1.67,"f":0.9972},{"h":-1.57,"f":0.99696},{"h":-1.48,"f":0.9967},{"h":-1.38,"f":0.99704},{"h":-1.28,"f":0.99702},{"h":-1.18,"f":0.9968},{"h":-1.08,"f":0.99677},{"h":-0.98,"f":0.99668},{"h":-0.89,"f":0.9968},{"h":-0.69,"f":0.99679},{"h":-0.6,"f":0.99656},{"h":-0.5,"f":0.99656},{"h":-0.4,"f":0.99665},{"h":-0.3,"f":0.99665},{"h":-0.2,"f":0.99659},{"h":-0.1,"f":0.9965},{"h":0.0,"f":0.99661},{"h":0.09,"f":0.99664},{"h":0.19,"f":0.99666},{"h":0.29,"f":0.99677},{"h":0.38,"f":0.99657},{"h":0.49,"f":0.99654},{"h":0.58,"f":0.99676},{"h":0.69,"f":0.99664},{"h":0.79,"f":0.9969},{"h":0.88,"f":0.9967},{"h":0.98,"f":0.9965},{"h":1.08,"f":0.9967},{"h":1.18,"f":0.99708},{"h":1.37,"f":0.99703},{"h":1.47,"f":0.99672},{"h":1.56,"f":0.99695},{"h":1.67,"f":0.99724},{"h":1.76,"f":0.99708},{"h":1.95,"f":0.99732},{"h":2.06,"f":0.99745},{"h":2.16,"f":0.99784},{"h":2.25,"f":0.99812},{"h":2.35,"f":0.99862},{"h":2.45,"f":0.99902},{"h":2.55,"f":0.99949},{"h":2.65,"f":1.00004},{"h":2.74,"f":1.00002},{"h":2.84,"f":0.99996},{"h":2.94,"f":1.00008},{"h":3.04,"f":1.00002},{"h":3.14,"f":0.99997},{"h":3.24,"f":0.99978},{"h":3.33,"f":1.00012},{"h":3.43,"f":1.00002},{"h":3.52,"f":0.9999},{"h":3.62,"f":0.99986},{"h":3.71,"f":0.99994},{"h":3.82,"f":1.00007},{"h":3.91,"f":0.99994},{"h":4.01,"f":0.99988},{"h":4.11,"f":0.99998},{"h":4.2,"f":0.99998},{"h":4.31,"f":1.00007},{"h":4.4,"f":0.99994},{"h":4.51,"f":0.99982},{"h":4.6,"f":1.00011},{"h":4.7,"f":0.99994},{"h":4.81,"f":1.00017},{"h":4.9,"f":1.00002},{"h":5.0,"f":0.9999},{"h":5.09,"f":1.00002},{"h":5.19,"f":1.00002},{"h":5.29,"f":1.00002},{"h":5.39,"f":1.00002},{"h":5.48,"f":1.00001},{"h":5.59,"f":1.00017},{"h":5.67,"f":0.99988},{"h":5.78,"f":0.99996},{"h":5.88,"f":1.00017},{"h":5.98,"f":0.99989},{"h":6.08,"f":1.00001},{"h":6.17,"f":1.00008},{"h":6.28,"f":0.99988}
],
"model":[
{"h":-6.424,"f":1.0},{"h":-2.8,"f":1.0},{"h":-2.75,"f":0.99997},{"h":-2.7,"f":0.99986},{"h":-2.65,"f":0.9997},{"h":-2.6,"f":0.99952},{"h":-2.5,"f":0.9991},{"h":-2.4,"f":0.99866},{"h":-2.3,"f":0.9982},{"h":-2.2,"f":0.99782},{"h":-2.1,"f":0.99757},{"h":-2.0,"f":0.9974},{"h":-1.9,"f":0.99728},{"h":-1.8,"f":0.99718},{"h":-1.6,"f":0.99703},{"h":-1.4,"f":0.99692},{"h":-1.2,"f":0.99683},{"h":-1.0,"f":0.99676},{"h":-0.8,"f":0.9967},{"h":-0.6,"f":0.99666},{"h":-0.4,"f":0.99663},{"h":-0.2,"f":0.99661},{"h":0.0,"f":0.99661},{"h":0.2,"f":0.99661},{"h":0.4,"f":0.99663},{"h":0.6,"f":0.99666},{"h":0.8,"f":0.9967},{"h":1.0,"f":0.99676},{"h":1.2,"f":0.99683},{"h":1.4,"f":0.99692},{"h":1.6,"f":0.99703},{"h":1.8,"f":0.99718},{"h":1.9,"f":0.99728},{"h":2.0,"f":0.99741},{"h":2.1,"f":0.99762},{"h":2.2,"f":0.99795},{"h":2.3,"f":0.99835},{"h":2.4,"f":0.99876},{"h":2.5,"f":0.99925},{"h":2.6,"f":0.99968},{"h":2.65,"f":0.99986},{"h":2.7,"f":0.99997},{"h":2.75,"f":1.0},{"h":6.333,"f":1.0}
]
},
"vconcat":[
{
"width":893,"height":187,
"layer":[
{"data":{"name":"band"},
"mark":{"type":"circle","size":20,"color":"black","opacity":1,"clip":true},
"encoding":{
"x":{"field":"t","type":"quantitative","scale":{"domain":[3072.69,3129.6],"nice":false,"zero":false},
"axis":{"orient":"bottom","values":[3073,3075,3077,3079,3081,3083,3085,3087,3089,3091,3093,3095,3097,3099,3101,3103,3105,3107,3109,3111,3113,3115,3117,3119,3121,3123,3125,3127,3129],
"tickSize":{"condition":{"test":"(datum.value - 3077) % 10 === 0","value":-10},"value":-5},
"labelExpr":"(datum.value - 3077) % 10 === 0 ? format(datum.value, 'd') : ''",
"labelPadding":33,"labelBaseline":"alphabetic",
"title":"Time [BJKD]","titleX":449.7,"titleY":48.5,"titleBaseline":"alphabetic","titleAlign":"center"}},
"y":{"field":"f","type":"quantitative","scale":{"domain":[0.995514,1.000589],"nice":false,"zero":false},
"axis":{"orient":"left","values":[0.996,0.9965,0.997,0.9975,0.998,0.9985,0.999,0.9995,1,1.0005],
"tickSize":{"condition":{"test":"abs(datum.value*500 - round(datum.value*500)) < 0.01","value":-10},"value":-5},
"labelExpr":"abs(datum.value*500 - round(datum.value*500)) < 0.01 ? format(datum.value, '.3f') : ''",
"labelPadding":19,
"title":"Relative Flux","titleX":-76,"titleY":93.5,"titleBaseline":"alphabetic","titleAlign":"center","titleAngle":-90}}
}},
{"data":{"name":"transits"},
"mark":{"type":"rule","color":"#d0605e","strokeWidth":4,"clip":true},
"encoding":{
"x":{"field":"tc","type":"quantitative","axis":{"orient":"top","ticks":false,"labels":false,"title":null,"domain":true}},
"y":{"datum":0.99616},
"y2":{"datum":0.99576}
}}
],
"resolve":{"axis":{"x":"independent"}}
},
{
"width":893,"height":186,
"layer":[
{"data":{"name":"model"},
"mark":{"type":"line","color":"#cd5c5c","strokeWidth":3.8,"interpolate":"monotone","clip":true},
"encoding":{"x":{"field":"h","type":"quantitative","scale":{"domain":[-6.424,6.333],"nice":false,"zero":false},
"axis":{"orient":"top","ticks":false,"labels":false,"title":null,"domain":true}},
"y":{"field":"f","type":"quantitative","scale":{"domain":[0.996134,1.000744],"nice":false,"zero":false},"axis":null}}},
{"data":{"name":"folded"},
"mark":{"type":"circle","size":60,"color":"black","opacity":1,"clip":true},
"encoding":{"x":{"field":"h","type":"quantitative",
"axis":{"orient":"bottom","values":[-6,-5.5,-5,-4.5,-4,-3.5,-3,-2.5,-2,-1.5,-1,-0.5,0,0.5,1,1.5,2,2.5,3,3.5,4,4.5,5,5.5,6],
"tickSize":{"condition":{"test":"datum.value % 2 === 0","value":-10},"value":-5},
"labelExpr":"datum.value % 2 === 0 ? format(datum.value, 'd') : ''",
"labelPadding":33,"labelBaseline":"alphabetic",
"title":"Hours From Mid-Transit","titleX":449.7,"titleY":51,"titleBaseline":"alphabetic","titleAlign":"center"}},
"y":{"field":"f","type":"quantitative",
"axis":{"orient":"left","values":[0.9965,0.997,0.9975,0.998,0.9985,0.999,0.9995,1,1.0005],
"tickSize":{"condition":{"test":"abs(datum.value*500 - round(datum.value*500)) < 0.01","value":-10},"value":-5},
"labelExpr":"abs(datum.value*500 - round(datum.value*500)) < 0.01 ? format(datum.value, '.3f') : ''",
"labelPadding":19,
"title":"Relative Flux","titleX":-76,"titleY":93,"titleBaseline":"alphabetic","titleAlign":"center","titleAngle":-90}}}},
{"data":{"values":[{"label":"P = 11.6 d"}]},
"mark":{"type":"text","align":"right","baseline":"alphabetic","font":"DejaVu Serif","fontWeight":"bold","fontSize":16,"color":"#cd5c5c"},
"encoding":{"x":{"datum":6.27,"axis":null},"y":{"datum":0.996449,"axis":null},"text":{"field":"label","type":"nominal"}}}
],
"resolve":{"axis":{"x":"independent","y":"independent"}}
}
]
}
